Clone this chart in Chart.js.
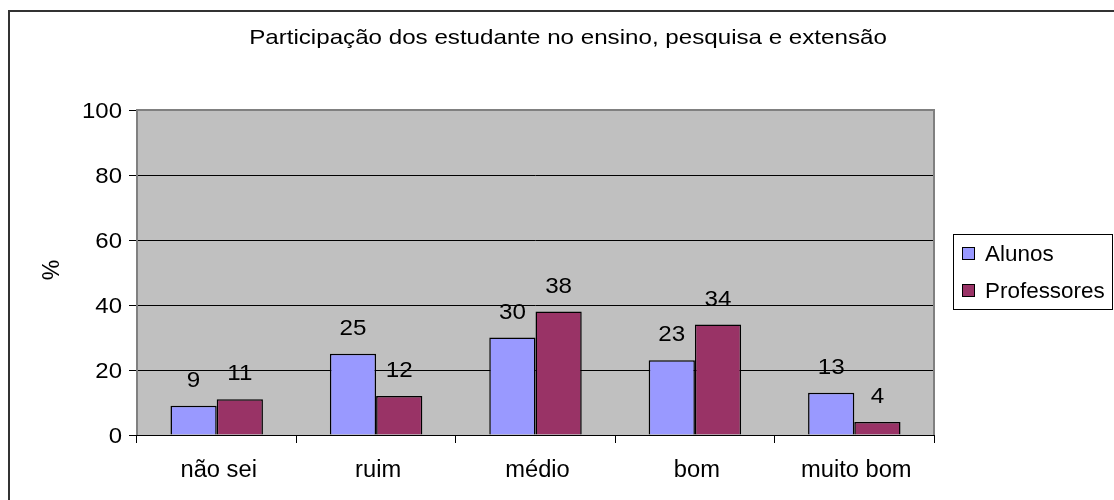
<!DOCTYPE html>
<html>
<head>
<meta charset="utf-8">
<script src="https://cdn.jsdelivr.net/npm/chart.js@4/dist/chart.umd.min.js"></script>
<style>
  body { margin: 0; background: #fff; }
  #wrap { position: relative; width: 1114px; height: 500px; }
</style>
</head>
<body>
<div id="wrap"><canvas id="grafico" width="1114" height="500"></canvas></div>
<script>
const categorias = ["não sei", "ruim", "médio", "bom", "muito bom"];
const alunos = [9, 25, 30, 23, 13];
const professores = [11, 12, 38, 34, 4];
const yTicks = [0, 20, 40, 60, 80, 100];

const FONT = "'Liberation Sans', Arial, sans-serif";

// texto levemente esticado na horizontal, como no original
function texto(ctx, t, x, y, size, sx, align) {
  ctx.save();
  ctx.font = size + "px " + FONT;
  ctx.textAlign = align || "center";
  ctx.textBaseline = "alphabetic";
  ctx.translate(x, y);
  ctx.scale(sx, 1);
  ctx.fillText(t, 0, 0);
  ctx.restore();
}

// fundo cinza, moldura, título, rótulos e legenda
const moldura = {
  id: "moldura",
  beforeDraw(chart) {
    const ctx = chart.ctx;
    const a = chart.chartArea;
    ctx.save();
    ctx.fillStyle = "#fff";
    ctx.fillRect(0, 0, chart.width, chart.height);
    ctx.strokeStyle = "#333";
    ctx.lineWidth = 2;
    ctx.strokeRect(9, 11, chart.width + 20, chart.height + 20);
    ctx.fillStyle = "#c0c0c0";
    ctx.fillRect(a.left, a.top, a.right - a.left, a.bottom - a.top);
    ctx.restore();
  },
  beforeDatasetsDraw(chart) {
    const ctx = chart.ctx;
    const a = chart.chartArea;
    ctx.save();
    ctx.strokeStyle = "#808080";
    ctx.lineWidth = 2;
    ctx.beginPath();
    ctx.moveTo(a.left, a.bottom);
    ctx.lineTo(a.left, a.top);
    ctx.lineTo(a.right, a.top);
    ctx.lineTo(a.right, a.bottom);
    ctx.stroke();
    ctx.strokeStyle = "#000";
    ctx.lineWidth = 1;
    ctx.beginPath();
    ctx.moveTo(a.left, a.bottom + 0.5);
    ctx.lineTo(a.right + 1, a.bottom + 0.5);
    ctx.stroke();
    ctx.restore();
  },
  afterDraw(chart) {
    const ctx = chart.ctx;
    ctx.save();
    ctx.fillStyle = "#000";
    texto(ctx, "Participação dos estudante no ensino, pesquisa e extensão", 568, 44, 21, 1.15);

    // rótulo do eixo
    ctx.save();
    ctx.translate(42, 270);
    ctx.rotate(Math.PI / 2);
    texto(ctx, "%", 0, 0, 23, 1);
    ctx.restore();

    // rótulos dos eixos
    const ys = chart.scales.y;
    yTicks.forEach(v => texto(ctx, String(v), 122, ys.getPixelForValue(v) + 8, 22, 1.09, "right"));
    const xs = chart.scales.x;
    categorias.forEach((c, i) => texto(ctx, c, xs.getPixelForValue(i) + 2, 477, 23, 1.03));

    // valores sobre as barras
    chart.data.datasets.forEach((ds, i) => {
      chart.getDatasetMeta(i).data.forEach((bar, j) => {
        texto(ctx, String(ds.data[j]), bar.x, bar.y - 19, 22, 1.1);
      });
    });

    // legenda
    ctx.strokeStyle = "#000";
    ctx.lineWidth = 1;
    ctx.strokeRect(953.5, 234.5, 159, 75);
    const base = [261, 298];
    chart.data.datasets.forEach((ds, i) => {
      ctx.fillStyle = ds.backgroundColor;
      ctx.fillRect(962.5, base[i] - 13.5, 12, 12);
      ctx.strokeRect(962.5, base[i] - 13.5, 12, 12);
      ctx.fillStyle = "#000";
      texto(ctx, ds.label, 985, base[i], 22, 1.02, "left");
    });
    ctx.restore();
  }
};

new Chart(document.getElementById("grafico"), {
  type: "bar",
  data: {
    labels: categorias,
    datasets: [
      { label: "Alunos", data: alunos, backgroundColor: "#9999ff", borderColor: "#000", borderWidth: 1.5 },
      { label: "Professores", data: professores, backgroundColor: "#993366", borderColor: "#000", borderWidth: 1.5 }
    ]
  },
  options: {
    responsive: false,
    animation: false,
    devicePixelRatio: 1,
    layout: { padding: { top: 110, right: 180, left: 0, bottom: 0 } },
    plugins: { legend: { display: false }, tooltip: { enabled: false } },
    datasets: { bar: { categoryPercentage: 0.58, barPercentage: 1 } },
    scales: {
      x: {
        grid: { offset: true, drawOnChartArea: false, drawTicks: true, tickLength: 8, color: "#000" },
        border: { display: false },
        ticks: { color: "rgba(0,0,0,0)", font: { family: FONT, size: 20 }, padding: 14, maxRotation: 0 },
        afterFit(scale) { scale.height = 65; }
      },
      y: {
        min: 0,
        max: 100,
        afterBuildTicks(scale) { scale.ticks = yTicks.map(v => ({ value: v })); },
        grid: { color: "#000", tickLength: 8, drawTicks: true },
        border: { display: false },
        ticks: { color: "rgba(0,0,0,0)", font: { family: FONT, size: 20 }, padding: 7 },
        afterFit(scale) { scale.width = 137; }
      }
    }
  },
  plugins: [moldura]
});
</script>
</body>
</html>
